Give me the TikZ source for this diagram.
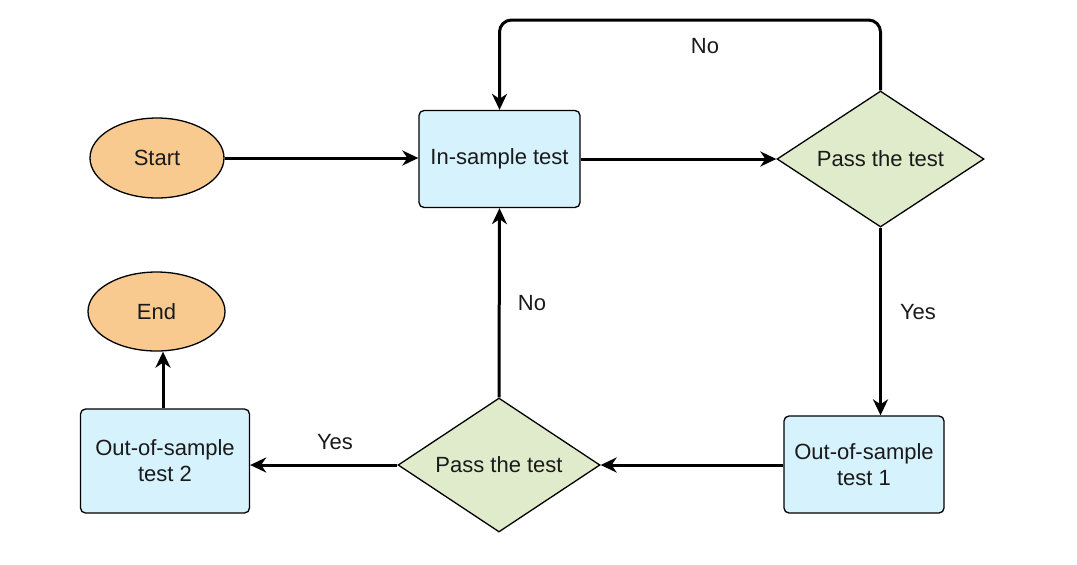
\documentclass[tikz,border=0pt]{standalone}
\usepackage{fontspec}
\setmainfont{Liberation Sans}
\usetikzlibrary{shapes.geometric,arrows.meta}
\definecolor{orangefill}{HTML}{F9CA8F}
\definecolor{bluefill}{HTML}{D5F2FD}
\definecolor{greenfill}{HTML}{DFEBCB}
\definecolor{txt}{HTML}{1A1A1A}
\tikzset{
  base/.style={draw=black, line width=0.65pt, text=txt, font=\fontsize{11}{13}\selectfont, align=center, inner sep=0pt},
  term/.style={base, ellipse, fill=orangefill},
  proc/.style={base, rectangle, rounded corners=2.5pt, fill=bluefill},
  decide/.style={base, diamond, shape aspect=1.6, fill=greenfill},
  conn/.style={line width=1.5pt, -{Stealth[length=8pt,width=7.5pt,inset=2.5pt]}},
  lbl/.style={font=\fontsize{11}{13}\selectfont, text=txt, inner sep=0pt}
}
\begin{document}
\begin{tikzpicture}[x=0.5pt,y=-0.5pt]
\useasboundingbox (0,0) rectangle (1077,564);
\node[term, minimum width=67pt, minimum height=40pt] (start) at (157,158) {Start};
\node[proc, minimum width=80.5pt, minimum height=48.5pt] (ins) at (499.5,159) {In-sample test};
\node[decide, minimum width=103.5pt, minimum height=68pt] (d1) at (880.5,159) {Pass the test};
\node[proc, minimum width=80pt, minimum height=48.5pt] (o1) at (864,464.5) {Out-of-sample\\test 1};
\node[decide, minimum width=101pt, minimum height=67pt] (d2) at (499,465) {Pass the test};
\node[proc, minimum width=84.5pt, minimum height=52pt] (o2) at (165,461) {Out-of-sample\\test 2};
\node[term, minimum width=68.5pt, minimum height=39.5pt] (end) at (156.5,311.5) {End};
\coordinate (topy) at (0,20);
\coordinate (endx) at (163,0);

\draw[conn] (start.east) -- (start.east -| ins.west);
\draw[conn] (ins.east) -- (ins.east -| d1.west);
\draw[conn, rounded corners=6pt] (d1.north) -- (d1.north |- topy) -- (ins.north |- topy) -- (ins.north);
\draw[conn] (d1.south) -- (d1.south |- o1.north);
\draw[conn] (o1.west |- d2.east) -- (d2.east);
\draw[conn] (d2.north) -- (ins.south);
\draw[conn] (d2.west) -- (d2.west -| o2.east);
\draw[conn] (endx |- o2.north) -- (endx |- end.south);

\node[lbl] (no1) at (705,46) {No};
\node[lbl] (yes1) at (918,312) {Yes};
\node[lbl] (no2) at (532,303) {No};
\node[lbl] (yes2) at (335,442) {Yes};
\end{tikzpicture}
\end{document}
